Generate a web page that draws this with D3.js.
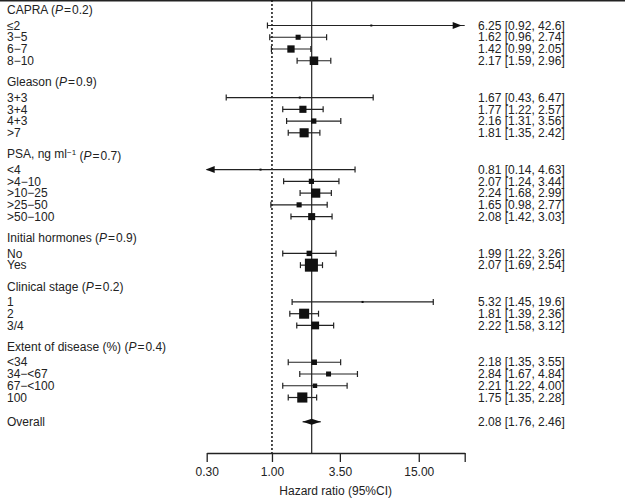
<!DOCTYPE html>
<html>
<head>
<meta charset="utf-8">
<script src="https://cdn.jsdelivr.net/npm/d3@7"></script>
<style>
  html, body { margin: 0; padding: 0; background: #fff; }
  svg { display: block; font-family: 'Liberation Sans', Arial, sans-serif; }
  .axis path, .axis line { stroke: #222; stroke-width: 1.3; }
  .axis text { font-size: 12px; fill: #222; }
</style>
</head>
<body>
<div id="chart"></div>
<script>
// group headers
var groupNames = ['CAPRA', 'Gleason', 'PSA, ng ml', 'Initial hormones', 'Clinical stage', 'Extent of disease (%)'];
var groupSup = ['', '', '\u22121', '', '', ''];
var groupP = ['0.2', '0.9', '0.7', '0.9', '0.2', '0.4'];

// subgroups
var categories = ['\u22642', '3\u22125', '6\u22127', '8\u221210',
  '3+3', '3+4', '4+3', '>7',
  '<4', '>4\u221210', '>10\u221225', '>25\u221250', '>50\u2212100',
  'No', 'Yes',
  '1', '2', '3/4',
  '<34', '34\u2212<67', '67\u2212<100', '100'];
var categoryGroup = [0, 0, 0, 0, 1, 1, 1, 1, 2, 2, 2, 2, 2, 3, 3, 4, 4, 4, 5, 5, 5, 5];
var hazardRatio = [6.25, 1.62, 1.42, 2.17, 1.67, 1.77, 2.16, 1.81, 0.81, 2.07, 2.24, 1.65, 2.08, 1.99, 2.07, 5.32, 1.81, 2.22, 2.18, 2.84, 2.21, 1.75];
var lowerCI = [0.92, 0.96, 0.99, 1.59, 0.43, 1.22, 1.31, 1.35, 0.14, 1.24, 1.68, 0.98, 1.42, 1.22, 1.69, 1.45, 1.39, 1.58, 1.35, 1.67, 1.22, 1.35];
var upperCI = [42.6, 2.74, 2.05, 2.96, 6.47, 2.57, 3.56, 2.42, 4.63, 3.44, 2.99, 2.77, 3.03, 3.26, 2.54, 19.6, 2.36, 3.12, 3.55, 4.84, 4.00, 2.28];

var overall = { label: 'Overall', hr: 2.08, lo: 1.76, hi: 2.46 };

var tickValues = [0.3, 1, 3.5, 15, 35];
var tickLabels = ['0.30', '1.00', '3.50', '15.00', ''];
var axisTitle = 'Hazard ratio (95%CI)';

(function() {
  'use strict';

  var width = 625,
      height = 498,
      axisY = 453,
      labelX = 7,
      valueX = 478,
      capH = 3;

  var svg = d3.select('#chart')
    .append('svg')
    .attr('width', width)
    .attr('height', height);

  var x = d3.scaleLog()
    .domain([tickValues[0], tickValues[tickValues.length - 1]])
    .range([206.7, 464.7]);

  // square side from precision of the estimate (1/se)
  var side = d3.scaleLinear().domain([0, 9.6]).range([0, 13]);
  function precision(lo, hi) { return 3.92 / Math.log(hi / lo); }

  function fmt(v) { return v < 10 ? v.toFixed(2) : v.toFixed(1); }

  /* ------- ROW LAYOUT ------- */
  var step = 11.75, headGap = 15.5, groupGap = 21.3;
  var headers = [], rows = [];
  var y = 10;
  groupNames.forEach(function(name, g) {
    if (g > 0) y += groupGap;
    headers.push({ g: g, y: y });
    y += headGap - step;
    categories.forEach(function(c, i) {
      if (categoryGroup[i] !== g) return;
      y += step;
      rows.push({ label: c, hr: hazardRatio[i], lo: lowerCI[i], hi: upperCI[i], y: y });
    });
  });
  var overallY = y + 24.3;

  /* ------- FRAME ------- */
  svg.append('line')
    .attr('x1', 0).attr('x2', width)
    .attr('y1', 0.7).attr('y2', 0.7)
    .attr('stroke', '#222').attr('stroke-width', 1.5);

  svg.append('line')
    .attr('x1', x(1)).attr('x2', x(1))
    .attr('y1', 0).attr('y2', axisY)
    .attr('stroke', '#111').attr('stroke-width', 1.5)
    .attr('stroke-dasharray', '2,2');

  svg.append('line')
    .attr('x1', x(overall.hr)).attr('x2', x(overall.hr))
    .attr('y1', 0).attr('y2', axisY)
    .attr('stroke', '#333').attr('stroke-width', 1.3);

  /* ------- HEADERS ------- */
  var head = svg.append('g').selectAll('text')
    .data(headers)
    .enter().append('text')
    .attr('x', labelX)
    .attr('y', function(d) { return d.y; })
    .attr('dy', '0.35em')
    .style('font-size', '12px')
    .attr('fill', '#222');

  head.append('tspan').text(function(d) { return groupNames[d.g]; });
  head.filter(function(d) { return groupSup[d.g]; })
    .append('tspan')
    .attr('dy', '-0.45em')
    .style('font-size', '8px')
    .text(function(d) { return groupSup[d.g]; });
  head.append('tspan')
    .attr('dy', function(d) { return groupSup[d.g] ? '0.45em' : null; })
    .text(' (');
  head.append('tspan').style('font-style', 'italic').text('P');
  head.append('tspan').text(function(d) { return '\u200A=\u200A' + groupP[d.g] + ')'; });

  /* ------- ROWS ------- */
  var all = rows.concat([{ label: overall.label, hr: overall.hr, lo: overall.lo, hi: overall.hi, y: overallY, overall: true }]);

  var row = svg.append('g').selectAll('g')
    .data(all)
    .enter().append('g');

  row.append('text')
    .attr('x', labelX)
    .attr('y', function(d) { return d.y; })
    .attr('dy', '0.35em')
    .style('font-size', '12px')
    .attr('fill', '#222')
    .text(function(d) { return d.label; });

  row.append('text')
    .attr('x', valueX)
    .attr('y', function(d) { return d.y; })
    .attr('dy', '0.35em')
    .style('font-size', '12px')
    .attr('fill', '#222')
    .text(function(d) { return fmt(d.hr) + ' [' + fmt(d.lo) + ', ' + fmt(d.hi) + ']'; });

  var dom = x.domain();
  row.append('line')
    .attr('x1', function(d) { return x(Math.max(d.lo, dom[0])); })
    .attr('x2', function(d) { return x(Math.min(d.hi, dom[1])); })
    .attr('y1', function(d) { return d.y; })
    .attr('y2', function(d) { return d.y; })
    .attr('stroke', '#222').attr('stroke-width', 1.2);

  // caps
  row.filter(function(d) { return !d.overall && d.lo >= dom[0]; })
    .append('line')
    .attr('x1', function(d) { return x(d.lo); }).attr('x2', function(d) { return x(d.lo); })
    .attr('y1', function(d) { return d.y - capH; }).attr('y2', function(d) { return d.y + capH; })
    .attr('stroke', '#222').attr('stroke-width', 1.2);
  row.filter(function(d) { return !d.overall && d.hi <= dom[1]; })
    .append('line')
    .attr('x1', function(d) { return x(d.hi); }).attr('x2', function(d) { return x(d.hi); })
    .attr('y1', function(d) { return d.y - capH; }).attr('y2', function(d) { return d.y + capH; })
    .attr('stroke', '#222').attr('stroke-width', 1.2);

  // arrows where the interval runs off the axis
  row.filter(function(d) { return d.hi > dom[1]; })
    .append('path')
    .attr('d', function(d) {
      var xe = x(dom[1]) - 3;
      return 'M' + xe + ',' + d.y + 'L' + (xe - 9) + ',' + (d.y - 3.5) + 'L' + (xe - 9) + ',' + (d.y + 3.5) + 'Z';
    })
    .attr('fill', '#111');
  row.filter(function(d) { return d.lo < dom[0]; })
    .append('path')
    .attr('d', function(d) {
      var xe = x(dom[0]) - 1;
      return 'M' + xe + ',' + d.y + 'L' + (xe + 9) + ',' + (d.y - 3.5) + 'L' + (xe + 9) + ',' + (d.y + 3.5) + 'Z';
    })
    .attr('fill', '#111');

  // squares
  row.filter(function(d) { return !d.overall; })
    .append('rect')
    .each(function(d) {
      var s = Math.max(2, side(precision(d.lo, d.hi)));
      d3.select(this)
        .attr('x', x(d.hr) - s / 2)
        .attr('y', d.y - s / 2)
        .attr('width', s)
        .attr('height', s);
    })
    .attr('fill', '#111');

  // overall diamond
  row.filter(function(d) { return d.overall; })
    .append('path')
    .attr('d', function(d) {
      return 'M' + x(d.lo) + ',' + d.y + 'L' + x(d.hr) + ',' + (d.y - 3) +
        'L' + x(d.hi) + ',' + d.y + 'L' + x(d.hr) + ',' + (d.y + 3) + 'Z';
    })
    .attr('fill', '#111');

  /* ------- AXIS ------- */
  var axis = d3.axisBottom(x)
    .tickValues(tickValues)
    .tickFormat(function(d, i) { return tickLabels[i]; })
    .tickSize(9)
    .tickSizeOuter(0)
    .tickPadding(5);

  svg.append('g')
    .attr('class', 'axis')
    .attr('transform', 'translate(0,' + axisY + ')')
    .call(axis)
    .call(function(g) { g.selectAll('text').style('font-family', null); g.attr('font-family', null); });

  svg.append('text')
    .attr('x', (x.range()[0] + x.range()[1]) / 2)
    .attr('y', 491)
    .attr('dy', '0.35em')
    .attr('text-anchor', 'middle')
    .style('font-size', '12px')
    .attr('fill', '#222')
    .text(axisTitle);
})();
</script>
</body>
</html>
